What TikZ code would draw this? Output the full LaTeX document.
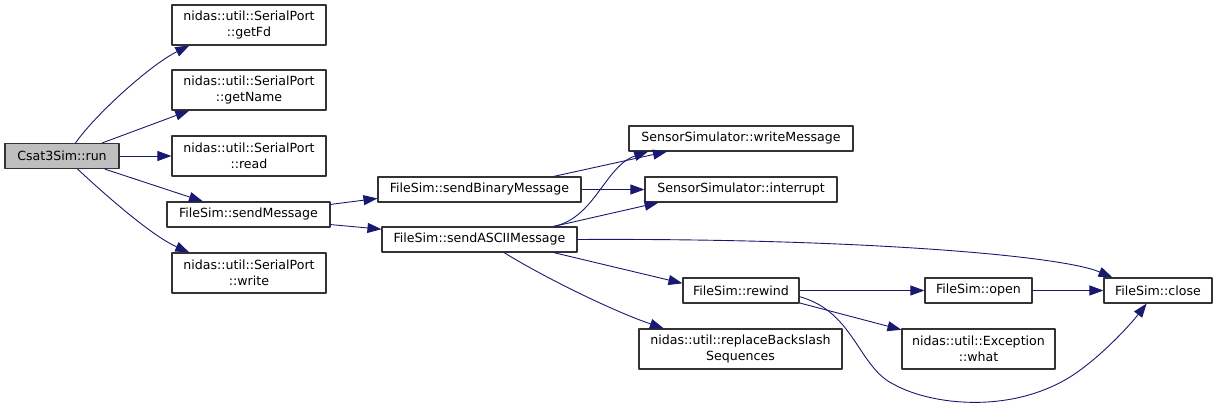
\documentclass[tikz,border=0pt]{standalone}
\usepackage{fontspec}
\setmainfont{DejaVu Sans}
\usetikzlibrary{arrows.meta}
\definecolor{edgeblue}{HTML}{191970}
\definecolor{rootgray}{HTML}{BFBFBF}
\begin{document}
\begin{tikzpicture}[x=1pt,y=-1pt,line join=round,
  font=\fontsize{12.6}{15.5}\selectfont,
  fn/.style={draw=black!80,line width=1.1pt,inner sep=0pt,minimum height=25pt,align=center},
  fn2/.style={fn,minimum height=40pt},
  call/.style={draw=edgeblue,line width=.9pt,-{Triangle[length=14pt,width=10pt]}}]
\useasboundingbox (0,0) rectangle (1219,409);
% functions
\node[fn,fill=rootgray,minimum width=114pt] (run) at (62,156) {Csat3Sim::run};
\node[fn2,minimum width=154pt] (getFd) at (249,25) {nidas::util::SerialPort\\::getFd};
\node[fn2,minimum width=154pt] (getName) at (249,90) {nidas::util::SerialPort\\::getName};
\node[fn2,minimum width=154pt] (read) at (249,156) {nidas::util::SerialPort\\::read};
\node[fn,minimum width=163pt] (sendMsg) at (248.5,214.5) {FileSim::sendMessage};
\node[fn2,minimum width=154pt] (write) at (249,273) {nidas::util::SerialPort\\::write};
\node[fn,minimum width=203pt] (sendBin) at (479.5,189.5) {FileSim::sendBinaryMessage};
\node[fn,minimum width=195pt] (sendAscii) at (479.5,239.5) {FileSim::sendASCIIMessage};
\node[fn,minimum width=224pt] (writeMsg) at (741,138.5) {SensorSimulator::writeMessage};
\node[fn,minimum width=192pt] (interrupt) at (741,189.5) {SensorSimulator::interrupt};
\node[fn,minimum width=116pt] (rewind) at (741,290.5) {FileSim::rewind};
\node[fn2,minimum width=203pt] (replace) at (740.5,349) {nidas::util::replaceBackslash\\Sequences};
\node[fn,minimum width=107pt] (open) at (978.5,290.5) {FileSim::open};
\node[fn2,minimum width=153pt] (what) at (978.5,349) {nidas::util::Exception\\::what};
\node[fn,minimum width=108pt] (close) at (1158,290.5) {FileSim::close};
% calls
\draw[call] (run.44) .. controls (95,115) and (150,65) .. (getFd.199);
\draw[call] (run.18) -- (getName.199);
\draw[call] (run.east) -- (read.west);
\draw[call] (run.-17) -- (sendMsg.164);
\draw[call] (run.-40) .. controls (100,190) and (150,235) .. (write.161);
\draw[call] (sendMsg.7) -- (sendBin.185);
\draw[call] (sendMsg.-7) -- (sendAscii.174);
\draw[call] (sendBin.10) -- (writeMsg.190);
\draw[call] (sendBin.east) -- (interrupt.west);
\draw[call] (sendAscii.10) .. controls (595,218) and (605,166) .. (writeMsg.188);
\draw[call] (sendAscii.10) -- (interrupt.189);
\draw[call] (sendAscii.east) .. controls (850,238) and (1060,255) .. (close.164);
\draw[call] (sendAscii.-10) -- (rewind.173);
\draw[call] (sendAscii.-28) .. controls (540,275) and (610,310) .. (replace.165);
\draw[call] (rewind.east) -- (open.west);
\draw[call] (rewind.-12) -- (what.166);
\draw[call] (rewind.-6) .. controls (855,312) and (858,368) .. (895,385)
  .. controls (932,405) and (1010,414) .. (1070,377)
  .. controls (1100,358) and (1130,325) .. (close.229);
\draw[call] (open.east) -- (close.west);
\end{tikzpicture}
\end{document}
